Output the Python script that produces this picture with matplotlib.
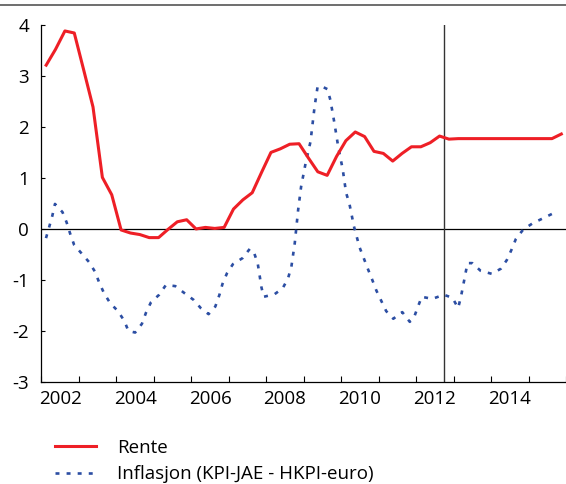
import numpy as np
import matplotlib
matplotlib.use("Agg")
import matplotlib.pyplot as plt
from matplotlib.lines import Line2D

plt.rcParams["font.family"] = ["Open Sans", "DejaVu Sans"]
plt.rcParams["axes.unicode_minus"] = False

# Rente: quarterly, 2002Q1 .. 2015Q4 (plotted at mid-quarter)
rente = [3.21, 3.52, 3.88, 3.84, 3.12, 2.39, 1.01, 0.67,
         -0.02, -0.08, -0.11, -0.17, -0.17, -0.01, 0.14, 0.18,
         0.00, 0.03, 0.01, 0.03, 0.39, 0.57, 0.71, 1.11,
         1.50, 1.57, 1.66, 1.67, 1.39, 1.12, 1.05, 1.42,
         1.73, 1.90, 1.81, 1.52, 1.48, 1.33, 1.48, 1.61,
         1.61, 1.69, 1.82, 1.76, 1.77, 1.77, 1.77, 1.77,
         1.77, 1.77, 1.77, 1.77, 1.77, 1.77, 1.77, 1.86]
rente_t = 2002.125 + 0.25 * np.arange(len(rente))

# Inflasjon (KPI-JAE - HKPI-euro)
infl_t = [2002.12, 2002.21, 2002.29, 2002.36, 2002.56, 2002.67, 2002.76, 2002.87,
          2003.07, 2003.27, 2003.43, 2003.54, 2003.67, 2003.83, 2004.04, 2004.21,
          2004.32, 2004.50, 2004.68, 2004.79, 2004.92, 2005.14, 2005.32, 2005.57,
          2005.82, 2006.06, 2006.25, 2006.46, 2006.64, 2006.75, 2006.83, 2006.95,
          2007.11, 2007.37, 2007.56, 2007.68, 2007.77, 2007.82, 2007.87, 2007.93,
          2008.22, 2008.44, 2008.58, 2008.67, 2008.76, 2008.85, 2008.93, 2009.05,
          2009.18, 2009.29, 2009.37, 2009.49, 2009.63, 2009.71, 2009.82, 2009.92,
          2010.04, 2010.13, 2010.22, 2010.34, 2010.49, 2010.60, 2010.71, 2010.83,
          2010.94, 2011.07, 2011.20, 2011.39, 2011.63, 2011.83, 2011.94, 2012.05,
          2012.15, 2012.43, 2012.74, 2012.97, 2013.12, 2013.19, 2013.25, 2013.31,
          2013.37, 2013.50, 2013.72, 2014.02, 2014.26, 2014.42, 2014.55, 2014.66,
          2014.86, 2015.11, 2015.39, 2015.67]
infl = [-0.18, 0.05, 0.26, 0.49, 0.33, 0.13, -0.08, -0.31,
        -0.48, -0.65, -0.84, -1.05, -1.26, -1.45, -1.61, -1.80,
        -2.00, -2.03, -1.86, -1.64, -1.44, -1.29, -1.10, -1.12,
        -1.26, -1.39, -1.55, -1.67, -1.52, -1.29, -1.08, -0.87,
        -0.69, -0.57, -0.39, -0.48, -0.67, -0.90, -1.14, -1.33,
        -1.28, -1.16, -0.97, -0.74, -0.28, 0.37, 0.83, 1.29,
        1.71, 2.40, 2.79, 2.79, 2.74, 2.53, 2.07, 1.61,
        1.17, 0.71, 0.49, 0.05, -0.36, -0.57, -0.78, -1.00,
        -1.21, -1.41, -1.61, -1.76, -1.63, -1.82, -1.74, -1.52,
        -1.33, -1.37, -1.29, -1.35, -1.55, -1.35, -1.13, -0.90,
        -0.67, -0.67, -0.82, -0.88, -0.78, -0.61, -0.40, -0.20,
        -0.01, 0.11, 0.21, 0.31]

year_labels = ["2002", "2004", "2006", "2008", "2010", "2012", "2014"]
RED, BLUE = "#ee1f26", "#2c4ea3"
FS = 13.5

fig = plt.figure(figsize=(5.66, 4.84), dpi=100)
ax = fig.add_axes([0.0733, 0.2107, 0.9267, 0.738])

ax.axhline(0, color="black", lw=0.9, zorder=1)
ax.axvline(2012.75, color="#333333", lw=1.0, zorder=1)
l1, = ax.plot(rente_t, rente, color=RED, lw=2.2, zorder=3, label="Rente")
l2, = ax.plot(infl_t, infl, color=BLUE, lw=1.9, ls=(0, (1.5, 2.7)),
              zorder=2, label="Inflasjon (KPI-JAE - HKPI-euro)")

ax.set_xlim(2002, 2016)
ax.set_ylim(-3, 4)
ax.set_yticks(range(-3, 5))
ax.set_xticks(range(2002, 2017))
ax.set_xticklabels([])
ax.set_xticks([y + 0.5 for y in range(2002, 2016, 2)], minor=True)
ax.set_xticklabels(year_labels, minor=True)
ax.tick_params(axis="x", which="major", direction="in", length=4, width=0.8)
ax.tick_params(axis="x", which="minor", length=0, pad=6, labelsize=FS)
ax.tick_params(axis="y", direction="in", length=3, width=0.8, pad=9, labelsize=FS)
for s in ["top", "right"]:
    ax.spines[s].set_visible(False)
for s in ["left", "bottom"]:
    ax.spines[s].set_linewidth(0.9)

# frame line across the top
fig.add_artist(Line2D([0, 1], [0.989, 0.989], transform=fig.transFigure,
                      color="#555555", lw=1.2))

fig.legend(handles=[l1, l2], loc="upper left", bbox_to_anchor=(0.097, 0.093),
           frameon=False, fontsize=FS, handlelength=2.2, handletextpad=1.1,
           labelspacing=0.45, borderaxespad=0, borderpad=0)

fig.savefig("out.png", dpi=100, facecolor="white")
